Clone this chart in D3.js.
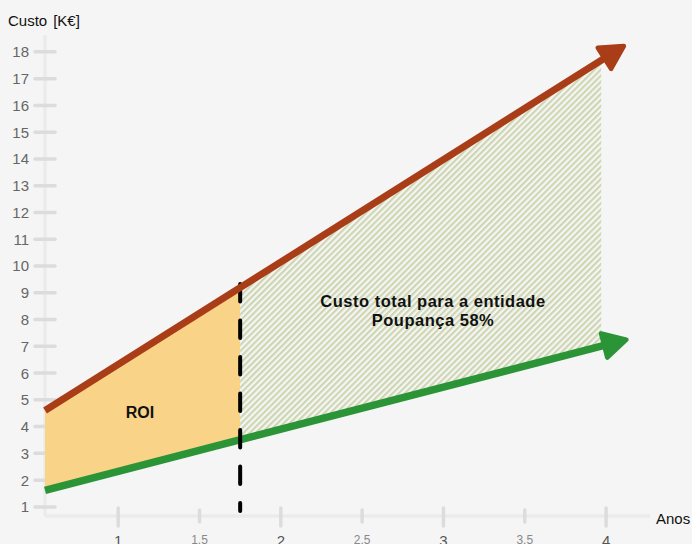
<!DOCTYPE html>
<html>
<head>
<meta charset="utf-8">
<script src="https://cdn.jsdelivr.net/npm/d3@7"></script>
<style>
  html, body { margin: 0; padding: 0; background: #f5f5f5; }
  svg { display: block; font-family: "Liberation Sans", Arial, Helvetica, sans-serif; }
</style>
</head>
<body>
<svg id="chart" width="692" height="544"></svg>
<script>
// ---- data ----
const yTicks = [1, 2, 3, 4, 5, 6, 7, 8, 9, 10, 11, 12, 13, 14, 15, 16, 17, 18];
const xMajorTicks = [1, 2, 3, 4];
const xMinorTicks = [1.5, 2.5, 3.5];
const costX = [0.55, 4];            // anos
const costTotal = [4.6, 17.8];      // custo total (vermelho)
const costEntity = [1.62, 7.05];    // custo para a entidade (verde)
const roiEnd = 1.75;                // fim do ROI (anos)
const hatchEnd = 3.97;
const yLabel = "Custo";
const yUnit = "[K€]";
const xLabel = "Anos";
const roiLabel = "ROI";
const savingsLines = ["Custo total para a entidade", "Poupança 58%"];

// ---- scales ----
const svg = d3.select("#chart");
const x = d3.scaleLinear().domain([0.55, 4.27]).range([45, 650]);
const y = d3.scaleLinear().domain([0.66, 18.63]).range([516, 35]);

const redC = "#a93d17", greenC = "#2a9437", roiC = "#f9d488", hatchC = "#cdd6b0";

const redAt = v => costTotal[0] + (costTotal[1] - costTotal[0]) * (v - costX[0]) / (costX[1] - costX[0]);
const greenAt = v => costEntity[0] + (costEntity[1] - costEntity[0]) * (v - costX[0]) / (costX[1] - costX[0]);

const defs = svg.append("defs");
const pat = defs.append("pattern").attr("id", "hatch")
  .attr("patternUnits", "userSpaceOnUse").attr("width", 4.3).attr("height", 4.3)
  .attr("patternTransform", "rotate(45)");
pat.append("rect").attr("width", 4.3).attr("height", 4.3).attr("fill", "#f5f5f5");
pat.append("rect").attr("x", 0).attr("y", 0).attr("width", 2.1).attr("height", 4.3)
  .attr("fill", hatchC);

function marker(id, color) {
  const m = defs.append("marker").attr("id", id)
    .attr("viewBox", "-4 -18 34 36").attr("refX", 2).attr("refY", 0)
    .attr("markerUnits", "userSpaceOnUse")
    .attr("markerWidth", 34).attr("markerHeight", 36).attr("orient", "auto");
  m.append("path").attr("d", "M0,-12.5 L23,0 L0,12.5 Z")
    .attr("fill", color).attr("stroke", color).attr("stroke-width", 4.5).attr("stroke-linejoin", "round");
}
marker("arrRed", redC);
marker("arrGreen", greenC);

// ---- axes ----
const gy = svg.append("g");
gy.append("line").attr("x1", x(0.55)).attr("x2", x(0.55)).attr("y1", y(18.63)).attr("y2", y(0.66))
  .attr("stroke", "#ebebeb").attr("stroke-width", 3.5);
gy.selectAll(".yt").data(yTicks).join("line")
  .attr("x1", x(0.55) - 10).attr("x2", x(0.55) + 10)
  .attr("y1", d => y(d)).attr("y2", d => y(d))
  .attr("stroke", "#dcdcdc").attr("stroke-width", 3.5).attr("stroke-linecap", "round");
gy.selectAll(".yl").data(yTicks).join("text")
  .attr("x", 29).attr("y", d => y(d) + 5.5).attr("text-anchor", "end")
  .attr("font-size", 15).attr("fill", "#666").text(d => d);

const gx = svg.append("g");
gx.append("line").attr("x1", x(0.55)).attr("x2", x(4.27)).attr("y1", y(0.66)).attr("y2", y(0.66))
  .attr("stroke", "#ebebeb").attr("stroke-width", 3.5);
gx.selectAll(".xt").data(xMajorTicks).join("line")
  .attr("x1", d => x(d)).attr("x2", d => x(d))
  .attr("y1", y(0.66) - 8).attr("y2", y(0.66) + 10)
  .attr("stroke", "#dcdcdc").attr("stroke-width", 3.5).attr("stroke-linecap", "round");
gx.selectAll(".xm").data(xMinorTicks).join("line")
  .attr("x1", d => x(d)).attr("x2", d => x(d))
  .attr("y1", y(0.66) - 6).attr("y2", y(0.66) + 6)
  .attr("stroke", "#dcdcdc").attr("stroke-width", 3.5).attr("stroke-linecap", "round");
gx.selectAll(".xl").data(xMajorTicks).join("text")
  .attr("x", d => x(d)).attr("y", 546).attr("text-anchor", "middle")
  .attr("font-size", 15).attr("fill", "#555").text(d => d);
gx.selectAll(".xml").data(xMinorTicks).join("text")
  .attr("x", d => x(d)).attr("y", 544).attr("text-anchor", "middle")
  .attr("font-size", 12).attr("fill", "#888").text(d => d);

svg.append("text").attr("x", 656).attr("y", 524).attr("font-size", 15).attr("fill", "#111").text(xLabel);
const yt = svg.append("text").attr("x", 8).attr("y", 26).attr("font-size", 15).attr("fill", "#111");
yt.append("tspan").text(yLabel);
yt.append("tspan").attr("dx", 6).text(yUnit);

// ---- areas ----
const area = d3.area().x(d => x(d)).y0(d => y(greenAt(d))).y1(d => y(redAt(d)));
svg.append("path").datum([costX[0], roiEnd]).attr("d", area).attr("fill", roiC);
svg.append("path").datum([roiEnd, hatchEnd]).attr("d", area).attr("fill", "url(#hatch)");

// ---- lines ----
const line = d3.line().x(d => x(d[0])).y(d => y(d[1]));
svg.append("path").datum(costX.map((v, i) => [v, costEntity[i]])).attr("d", line)
  .attr("fill", "none").attr("stroke", greenC).attr("stroke-width", 7.5)
  .attr("marker-end", "url(#arrGreen)");

svg.append("line").attr("x1", x(roiEnd)).attr("x2", x(roiEnd))
  .attr("y1", 284).attr("y2", 511)
  .attr("stroke", "#000").attr("stroke-width", 4)
  .attr("stroke-dasharray", "17.5 19").attr("stroke-linecap", "round");

svg.append("path").datum(costX.map((v, i) => [v, costTotal[i]])).attr("d", line)
  .attr("fill", "none").attr("stroke", redC).attr("stroke-width", 7)
  .attr("marker-end", "url(#arrRed)");

// ---- labels ----
svg.append("text").attr("x", 140).attr("y", 417.5).attr("text-anchor", "middle")
  .attr("font-size", 16).attr("font-weight", "bold").attr("fill", "#111").text(roiLabel);
svg.selectAll(".sv").data(savingsLines).join("text")
  .attr("x", 433).attr("y", (d, i) => 306.5 + i * 19).attr("text-anchor", "middle")
  .attr("font-size", 16.5).attr("font-weight", "bold").attr("letter-spacing", 0.5)
  .attr("fill", "#111").text(d => d);
</script>
</body>
</html>
